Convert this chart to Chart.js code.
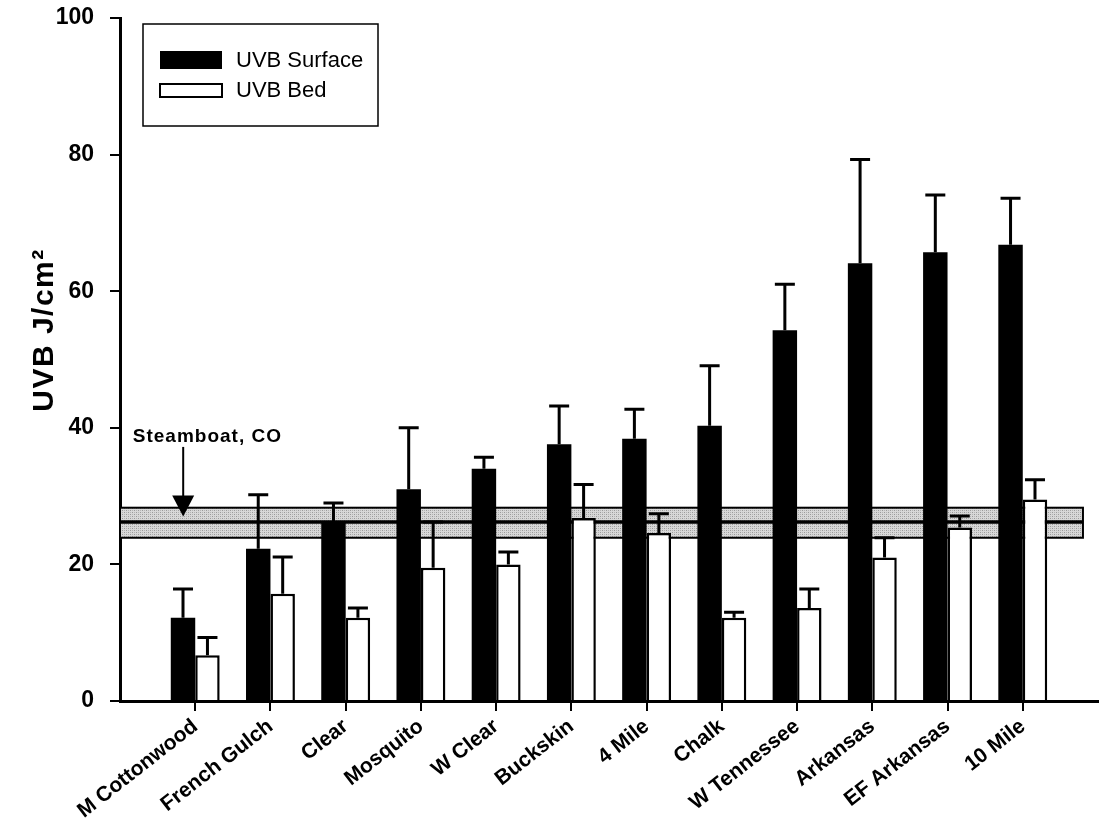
<!DOCTYPE html>
<html>
<head>
<meta charset="utf-8">
<script src="https://cdn.jsdelivr.net/npm/chart.js@4"></script>
<style>
  body { margin: 0; background: #fff; }
  #wrap { width: 1099px; height: 818px; position: relative; }
</style>
</head>
<body>
<div id="wrap"><canvas id="chart"></canvas></div>
<script>
const sites = ['M Cottonwood', 'French Gulch', 'Clear', 'Mosquito', 'W Clear', 'Buckskin', '4 Mile', 'Chalk', 'W Tennessee', 'Arkansas', 'EF Arkansas', '10 Mile']
const uvbSurface = [12.2, 22.3, 26.1, 31.0, 34.0, 37.6, 38.4, 40.3, 54.3, 64.1, 65.7, 66.8]
const uvbSurfaceErr = [4.2, 7.9, 2.9, 9.0, 1.7, 5.6, 4.3, 8.8, 6.7, 15.2, 8.4, 6.8]
const uvbBed = [6.7, 15.7, 12.2, 19.5, 20.0, 26.8, 24.6, 12.2, 13.6, 21.0, 25.4, 29.5]
const uvbBedErr = [2.6, 5.4, 1.4, 6.7, 1.8, 4.9, 2.8, 0.8, 2.8, 2.9, 1.7, 2.9]
const yTicks = [0, 20, 40, 60, 80, 100]

// Steamboat, CO reference band (low / mean / high)
const steamboat = { label: 'Steamboat, CO', low: 23.9, mid: 26.2, high: 28.3, xEnd: 11.8 }

const FONT = "'Liberation Sans', Arial, sans-serif"

function stipple(ctx) {
  const c = document.createElement('canvas')
  c.width = 4
  c.height = 4
  const p = c.getContext('2d')
  p.fillStyle = '#d8d8d8'
  p.fillRect(0, 0, 4, 4)
  p.fillStyle = '#9a9a9a'
  p.fillRect(0, 0, 1, 1)
  p.fillRect(2, 2, 1, 1)
  p.fillStyle = '#b4b4b4'
  p.fillRect(2, 0, 1, 1)
  p.fillRect(0, 2, 1, 1)
  return ctx.createPattern(c, 'repeat')
}

// shaded band behind the bars
const bandPlugin = {
  id: 'band',
  beforeDatasetsDraw(chart) {
    const { ctx, chartArea, scales: { x, y } } = chart
    const left = chartArea.left
    const right = x.getPixelForValue(steamboat.xEnd)
    const top = y.getPixelForValue(steamboat.high)
    const bot = y.getPixelForValue(steamboat.low)
    const mid = y.getPixelForValue(steamboat.mid)
    ctx.save()
    ctx.fillStyle = stipple(ctx)
    ctx.fillRect(left, top, right - left, bot - top)
    ctx.strokeStyle = '#000'
    ctx.lineWidth = 2
    ctx.strokeRect(left, top, right - left, bot - top)
    ctx.lineWidth = 3.5
    ctx.beginPath()
    ctx.moveTo(left, mid)
    ctx.lineTo(right, mid)
    ctx.stroke()
    ctx.restore()
  },
}

// upper error bars
const errorBars = {
  id: 'errorBars',
  afterDatasetsDraw(chart) {
    const { ctx, scales: { y } } = chart
    chart.data.datasets.forEach((ds, di) => {
      const meta = chart.getDatasetMeta(di)
      meta.data.forEach((bar, i) => {
        const top = y.getPixelForValue(ds.data[i].y + ds.errors[i])
        ctx.save()
        ctx.strokeStyle = '#000'
        ctx.lineWidth = 3
        ctx.beginPath()
        ctx.moveTo(bar.x, bar.y)
        ctx.lineTo(bar.x, top)
        ctx.moveTo(bar.x - 10, top)
        ctx.lineTo(bar.x + 10, top)
        ctx.stroke()
        ctx.restore()
      })
    })
  },
}

// arrow + label, legend box, y title
const extras = {
  id: 'extras',
  afterDraw(chart) {
    const { ctx, scales: { x, y } } = chart
    ctx.save()

    // Steamboat label and arrow
    const ax = x.getPixelForValue(-0.16)
    const tip = y.getPixelForValue(27.0)
    ctx.fillStyle = '#000'
    ctx.strokeStyle = '#000'
    ctx.font = `bold 19px ${FONT}`
    ctx.letterSpacing = '1px'
    ctx.textBaseline = 'alphabetic'
    ctx.textAlign = 'left'
    ctx.fillText(steamboat.label, x.getPixelForValue(-0.83), y.getPixelForValue(37.9))
    ctx.letterSpacing = '0px'
    ctx.lineWidth = 2
    ctx.beginPath()
    ctx.moveTo(ax, y.getPixelForValue(37.2))
    ctx.lineTo(ax, tip - 18)
    ctx.stroke()
    ctx.beginPath()
    ctx.moveTo(ax - 11, tip - 21)
    ctx.lineTo(ax + 11, tip - 21)
    ctx.lineTo(ax, tip)
    ctx.closePath()
    ctx.fill()

    // legend
    ctx.lineWidth = 1.5
    ctx.strokeRect(143, 24, 235, 102)
    const ds = chart.data.datasets
    ctx.font = `22px ${FONT}`
    ctx.textBaseline = 'middle'
    ctx.fillStyle = ds[0].backgroundColor
    ctx.fillRect(160, 51, 62, 18)
    ctx.fillStyle = '#000'
    ctx.fillText(ds[0].label, 236, 61)
    ctx.fillStyle = '#fff'
    ctx.fillRect(160, 84, 62, 13)
    ctx.lineWidth = 2
    ctx.strokeRect(160, 84, 62, 13)
    ctx.fillStyle = '#000'
    ctx.fillText(ds[1].label, 236, 91)

    // y axis title
    ctx.translate(45, 330)
    ctx.rotate(-Math.PI / 2)
    ctx.font = `bold 30px ${FONT}`
    ctx.letterSpacing = '1.5px'
    ctx.textAlign = 'center'
    ctx.textBaseline = 'middle'
    ctx.fillText('UVB J/cm²', 0, 0)
    ctx.restore()
  },
}

const datasets = [
  {
    label: 'UVB Surface',
    data: uvbSurface.map((v, i) => ({ x: i, y: v })),
    errors: uvbSurfaceErr,
    backgroundColor: '#000000',
    borderWidth: 0,
  },
  {
    label: 'UVB Bed',
    data: uvbBed.map((v, i) => ({ x: i, y: v })),
    errors: uvbBedErr,
    backgroundColor: '#ffffff',
    borderColor: '#000000',
    borderWidth: 2.5,
    borderSkipped: 'bottom',
  },
]

const config = {
  type: 'bar',
  data: { datasets },
  options: {
    responsive: true,
    maintainAspectRatio: false,
    animation: false,
    categoryPercentage: 0.65,
    barPercentage: 1.0,
    layout: { padding: { top: 0, right: 1, left: 0, bottom: 0 } },
    plugins: {
      legend: { display: false },
      tooltip: { enabled: false },
    },
    scales: {
      x: {
        type: 'linear',
        min: -1,
        max: 12,
        offset: false,
        afterBuildTicks: (scale) => {
          scale.ticks = sites.map((s, i) => ({ value: i }))
        },
        afterFit: (scale) => {
          scale.height = 117
        },
        ticks: {
          autoSkip: false,
          minRotation: 38,
          maxRotation: 38,
          color: '#000',
          padding: 3,
          font: { family: FONT, size: 21, weight: 'bold' },
          callback: (v) => sites[v] ?? '',
        },
        grid: {
          offset: false,
          drawOnChartArea: false,
          drawTicks: true,
          tickLength: 10,
          lineWidth: 2,
          color: '#000',
        },
        border: { display: true, color: '#000', width: 3 },
      },
      y: {
        min: 0,
        max: 100,
        afterBuildTicks: (scale) => {
          scale.ticks = yTicks.map((v) => ({ value: v }))
        },
        afterFit: (scale) => {
          scale.width = 120
          scale.paddingTop = 18
          scale.paddingBottom = 0
        },
        ticks: {
          color: '#000',
          padding: 16,
          font: { family: FONT, size: 23, weight: 'bold' },
        },
        grid: {
          drawOnChartArea: false,
          drawTicks: true,
          tickLength: 10,
          lineWidth: 2,
          color: '#000',
        },
        border: { display: true, color: '#000', width: 3 },
      },
    },
  },
  plugins: [bandPlugin, errorBars, extras],
}

new Chart(document.getElementById('chart').getContext('2d'), config)
</script>
</body>
</html>
